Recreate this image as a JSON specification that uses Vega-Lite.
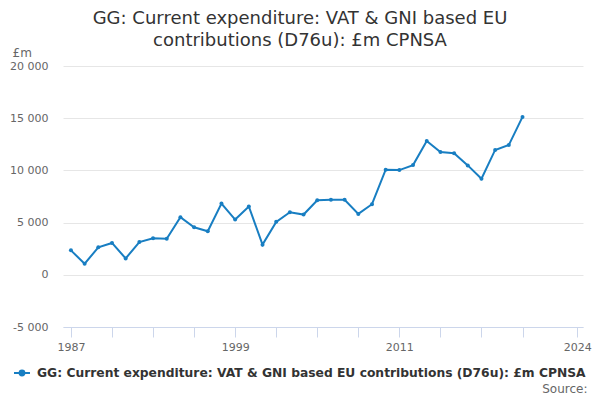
{
  "$schema": "https://vega.github.io/schema/vega-lite/v6.json",
  "width": 520,
  "height": 261,
  "autosize": {"type": "none"},
  "padding": {"left": 63, "top": 66, "right": 17, "bottom": 73},
  "background": "white",
  "title": {
    "text": ["GG: Current expenditure: VAT & GNI based EU", "contributions (D76u): £m CPNSA"],
    "anchor": "middle",
    "dx": -23,
    "font": "DejaVu Sans",
    "fontSize": 18,
    "fontWeight": "normal",
    "color": "#333333",
    "lineHeight": 22,
    "offset": -4
  },
  "data": {
    "values": [
      {"year": 1987, "value": 2340, "series": "GG: Current expenditure: VAT & GNI based EU contributions (D76u): £m CPNSA"},
      {"year": 1988, "value": 1060, "series": "GG: Current expenditure: VAT & GNI based EU contributions (D76u): £m CPNSA"},
      {"year": 1989, "value": 2630, "series": "GG: Current expenditure: VAT & GNI based EU contributions (D76u): £m CPNSA"},
      {"year": 1990, "value": 3050, "series": "GG: Current expenditure: VAT & GNI based EU contributions (D76u): £m CPNSA"},
      {"year": 1991, "value": 1570, "series": "GG: Current expenditure: VAT & GNI based EU contributions (D76u): £m CPNSA"},
      {"year": 1992, "value": 3140, "series": "GG: Current expenditure: VAT & GNI based EU contributions (D76u): £m CPNSA"},
      {"year": 1993, "value": 3490, "series": "GG: Current expenditure: VAT & GNI based EU contributions (D76u): £m CPNSA"},
      {"year": 1994, "value": 3460, "series": "GG: Current expenditure: VAT & GNI based EU contributions (D76u): £m CPNSA"},
      {"year": 1995, "value": 5510, "series": "GG: Current expenditure: VAT & GNI based EU contributions (D76u): £m CPNSA"},
      {"year": 1996, "value": 4550, "series": "GG: Current expenditure: VAT & GNI based EU contributions (D76u): £m CPNSA"},
      {"year": 1997, "value": 4170, "series": "GG: Current expenditure: VAT & GNI based EU contributions (D76u): £m CPNSA"},
      {"year": 1998, "value": 6830, "series": "GG: Current expenditure: VAT & GNI based EU contributions (D76u): £m CPNSA"},
      {"year": 1999, "value": 5290, "series": "GG: Current expenditure: VAT & GNI based EU contributions (D76u): £m CPNSA"},
      {"year": 2000, "value": 6540, "series": "GG: Current expenditure: VAT & GNI based EU contributions (D76u): £m CPNSA"},
      {"year": 2001, "value": 2890, "series": "GG: Current expenditure: VAT & GNI based EU contributions (D76u): £m CPNSA"},
      {"year": 2002, "value": 5070, "series": "GG: Current expenditure: VAT & GNI based EU contributions (D76u): £m CPNSA"},
      {"year": 2003, "value": 5990, "series": "GG: Current expenditure: VAT & GNI based EU contributions (D76u): £m CPNSA"},
      {"year": 2004, "value": 5770, "series": "GG: Current expenditure: VAT & GNI based EU contributions (D76u): £m CPNSA"},
      {"year": 2005, "value": 7145, "series": "GG: Current expenditure: VAT & GNI based EU contributions (D76u): £m CPNSA"},
      {"year": 2006, "value": 7180, "series": "GG: Current expenditure: VAT & GNI based EU contributions (D76u): £m CPNSA"},
      {"year": 2007, "value": 7180, "series": "GG: Current expenditure: VAT & GNI based EU contributions (D76u): £m CPNSA"},
      {"year": 2008, "value": 5835, "series": "GG: Current expenditure: VAT & GNI based EU contributions (D76u): £m CPNSA"},
      {"year": 2009, "value": 6760, "series": "GG: Current expenditure: VAT & GNI based EU contributions (D76u): £m CPNSA"},
      {"year": 2010, "value": 10065, "series": "GG: Current expenditure: VAT & GNI based EU contributions (D76u): £m CPNSA"},
      {"year": 2011, "value": 10030, "series": "GG: Current expenditure: VAT & GNI based EU contributions (D76u): £m CPNSA"},
      {"year": 2012, "value": 10510, "series": "GG: Current expenditure: VAT & GNI based EU contributions (D76u): £m CPNSA"},
      {"year": 2013, "value": 12820, "series": "GG: Current expenditure: VAT & GNI based EU contributions (D76u): £m CPNSA"},
      {"year": 2014, "value": 11760, "series": "GG: Current expenditure: VAT & GNI based EU contributions (D76u): £m CPNSA"},
      {"year": 2015, "value": 11635, "series": "GG: Current expenditure: VAT & GNI based EU contributions (D76u): £m CPNSA"},
      {"year": 2016, "value": 10480, "series": "GG: Current expenditure: VAT & GNI based EU contributions (D76u): £m CPNSA"},
      {"year": 2017, "value": 9200, "series": "GG: Current expenditure: VAT & GNI based EU contributions (D76u): £m CPNSA"},
      {"year": 2018, "value": 11960, "series": "GG: Current expenditure: VAT & GNI based EU contributions (D76u): £m CPNSA"},
      {"year": 2019, "value": 12430, "series": "GG: Current expenditure: VAT & GNI based EU contributions (D76u): £m CPNSA"},
      {"year": 2020, "value": 15125, "series": "GG: Current expenditure: VAT & GNI based EU contributions (D76u): £m CPNSA"}
    ]
  },
  "mark": {
    "type": "line",
    "strokeWidth": 2,
    "point": {"filled": true, "size": 16}
  },
  "encoding": {
    "x": {
      "field": "year",
      "type": "quantitative",
      "scale": {"domain": [1986.42, 2024.42], "nice": false, "zero": false},
      "axis": {
        "values": [1987, 1990, 1993, 1996, 1999, 2002, 2005, 2008, 2011, 2014, 2017, 2020, 2024],
        "labelExpr": "indexof([1987, 1999, 2011, 2024], datum.value) >= 0 ? format(datum.value, 'd') : ''",
        "grid": false,
        "domainColor": "#ccd6eb",
        "tickColor": "#ccd6eb",
        "tickSize": 10,
        "labelPadding": 4,
        "labelFont": "DejaVu Sans",
        "labelFontSize": 11,
        "labelColor": "#666666",
        "labelFlush": false,
        "labelOverlap": false,
        "title": "Source:",
        "titleFont": "DejaVu Sans",
        "titleFontSize": 12,
        "titleFontWeight": "normal",
        "titleColor": "#666666",
        "titleAnchor": "end",
        "titleAlign": "right",
        "titleBaseline": "alphabetic",
        "titleX": 524,
        "titleY": 65
      }
    },
    "y": {
      "field": "value",
      "type": "quantitative",
      "scale": {"domain": [-5000, 20000], "nice": false},
      "axis": {
        "values": [-5000, 0, 5000, 10000, 15000, 20000],
        "labelExpr": "(datum.value < 0 ? '-' : '') + replace(format(abs(datum.value), ',d'), ',', ' ')",
        "domain": false,
        "ticks": false,
        "tickSize": 0,
        "labelPadding": 15,
        "gridColor": "#e6e6e6",
        "labelFont": "DejaVu Sans",
        "labelFontSize": 11,
        "labelColor": "#666666",
        "title": "£m",
        "titleFont": "DejaVu Sans",
        "titleFontSize": 12,
        "titleFontWeight": "normal",
        "titleColor": "#666666",
        "titleAngle": 0,
        "titleAlign": "left",
        "titleBaseline": "alphabetic",
        "titleX": -51,
        "titleY": -10
      }
    },
    "color": {
      "field": "series",
      "type": "nominal",
      "scale": {"range": ["#187ec2"]},
      "legend": {
        "title": null,
        "orient": "none",
        "legendX": -50,
        "legendY": 298,
        "symbolType": "M-1,0L1,0M0.3,0A0.3,0.3,0,1,1,-0.3,0A0.3,0.3,0,1,1,0.3,0Z",
        "symbolSize": 256,
        "labelOffset": 6,
        "labelFont": "DejaVu Sans",
        "labelFontSize": 12.3,
        "labelFontWeight": "bold",
        "labelColor": "#333333",
        "labelLimit": 700,
        "encode": {
          "symbols": {
            "update": {
              "fill": {"value": "#187ec2"},
              "stroke": {"value": "#187ec2"},
              "strokeWidth": {"value": 2}
            }
          }
        }
      }
    }
  },
  "config": {
    "view": {"stroke": null}
  }
}
